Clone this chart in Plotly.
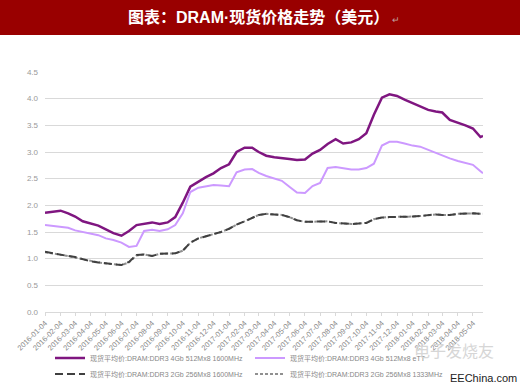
import plotly.graph_objects as go

dates = [
    "2016-01-04","2016-01-19","2016-02-04","2016-02-19","2016-03-04","2016-03-19",
    "2016-04-04","2016-04-19","2016-05-04","2016-05-19","2016-06-04","2016-06-19",
    "2016-07-04","2016-07-19","2016-08-04","2016-08-19","2016-09-04","2016-09-19",
    "2016-10-04","2016-10-19","2016-11-04","2016-11-19","2016-12-04","2016-12-19",
    "2017-01-04","2017-01-19","2017-02-04","2017-02-19","2017-03-04","2017-03-19",
    "2017-04-04","2017-04-19","2017-05-04","2017-05-19","2017-06-04","2017-06-19",
    "2017-07-04","2017-07-19","2017-08-04","2017-08-19","2017-09-04","2017-09-19",
    "2017-10-04","2017-10-19","2017-11-04","2017-11-19","2017-12-04","2017-12-19",
    "2018-01-04","2018-01-19","2018-02-04","2018-02-19","2018-03-04","2018-03-19",
    "2018-04-04","2018-04-19","2018-05-04","2018-05-19","2018-05-24",
]

ddr3_4gb_1600 = [
    1.86,1.88,1.90,1.85,1.79,1.70,1.66,1.62,1.55,1.48,1.43,1.52,
    1.63,1.65,1.68,1.65,1.68,1.78,2.05,2.35,2.45,2.53,2.60,2.70,
    2.77,3.00,3.08,3.08,3.00,2.93,2.90,2.89,2.87,2.85,2.86,2.97,
    3.04,3.15,3.24,3.16,3.18,3.24,3.35,3.70,4.02,4.08,4.05,3.98,
    3.92,3.86,3.79,3.76,3.74,3.60,3.55,3.50,3.44,3.28,3.30,
]

ddr3_4gb_ett = [
    1.63,1.61,1.60,1.58,1.53,1.50,1.48,1.44,1.38,1.35,1.30,1.22,
    1.24,1.52,1.54,1.52,1.55,1.63,1.85,2.25,2.33,2.36,2.38,2.37,
    2.36,2.62,2.67,2.68,2.61,2.55,2.50,2.46,2.35,2.24,2.23,2.36,
    2.42,2.70,2.72,2.70,2.67,2.67,2.70,2.78,3.12,3.19,3.19,3.16,
    3.12,3.10,3.04,2.98,2.93,2.88,2.83,2.80,2.76,2.64,2.60,
]

ddr3_2gb_1600 = [
    1.13,1.10,1.07,1.05,1.03,0.99,0.95,0.93,0.91,0.90,0.88,0.94,
    1.07,1.08,1.05,1.09,1.10,1.10,1.15,1.30,1.38,1.42,1.47,1.50,
    1.56,1.64,1.70,1.76,1.82,1.84,1.83,1.82,1.78,1.72,1.69,1.69,
    1.69,1.70,1.67,1.66,1.65,1.66,1.67,1.74,1.77,1.78,1.78,1.79,
    1.79,1.80,1.81,1.83,1.82,1.82,1.84,1.85,1.85,1.84,1.84,
]

ddr3_2gb_1333 = [
    1.12,1.10,1.07,1.05,1.02,0.99,0.95,0.93,0.91,0.90,0.88,0.93,
    1.06,1.08,1.05,1.09,1.10,1.10,1.15,1.30,1.38,1.42,1.47,1.50,
    1.56,1.64,1.70,1.76,1.82,1.84,1.83,1.82,1.78,1.72,1.69,1.69,
    1.69,1.70,1.67,1.66,1.65,1.66,1.67,1.74,1.77,1.78,1.78,1.79,
    1.79,1.80,1.81,1.83,1.82,1.82,1.84,1.85,1.85,1.84,1.84,
]

tick_dates = [
    "2016-01-04","2016-02-04","2016-03-04","2016-04-04","2016-05-04","2016-06-04",
    "2016-07-04","2016-08-04","2016-09-04","2016-10-04","2016-11-04","2016-12-04",
    "2017-01-04","2017-02-04","2017-03-04","2017-04-04","2017-05-04","2017-06-04",
    "2017-07-04","2017-08-04","2017-09-04","2017-10-04","2017-11-04","2017-12-04",
    "2018-01-04","2018-02-04","2018-03-04","2018-04-04","2018-05-04",
]
y_ticks = [0.0, 0.5, 1.0, 1.5, 2.0, 2.5, 3.0, 3.5, 4.0, 4.5]

names = [
    "现货平均价:DRAM:DDR3 4Gb 512Mx8 1600MHz",
    "现货平均价:DRAM:DDR3 4Gb 512Mx8 eTT",
    "现货平均价:DRAM:DDR3 2Gb 256Mx8 1600MHz",
    "现货平均价:DRAM:DDR3 2Gb 256Mx8 1333MHz",
]

FONT = "Liberation Sans, Noto Sans CJK SC, sans-serif"
PW, PH, L, T = 438, 240, 45, 72


def px(x):
    return (x - L) / PW


def py(y):
    return (T + PH - y) / PH


fig = go.Figure()
fig.add_trace(go.Scatter(x=dates, y=ddr3_4gb_1600, mode="lines", name=names[0],
                         line=dict(color="#7F1680", width=2.5), legend="legend"))
fig.add_trace(go.Scatter(x=dates, y=ddr3_4gb_ett, mode="lines", name=names[1],
                         line=dict(color="#CC99FF", width=2), legend="legend"))
fig.add_trace(go.Scatter(x=dates, y=ddr3_2gb_1333, mode="lines", name=names[3],
                         line=dict(color="#909090", width=2, dash="3px,2px"),
                         showlegend=False))
fig.add_trace(go.Scatter(x=dates, y=ddr3_2gb_1600, mode="lines", name=names[2],
                         line=dict(color="#404040", width=2, dash="8px,4px"),
                         legend="legend2"))
fig.add_trace(go.Scatter(x=[None], y=[None], mode="lines", name=names[3],
                         line=dict(color="#909090", width=2, dash="3px,2px"),
                         legend="legend2"))

leg_common = dict(orientation="h", xanchor="left", yanchor="middle",
                  entrywidth=155, entrywidthmode="pixels", itemwidth=30,
                  font=dict(size=7, color="#888888", family=FONT),
                  bgcolor="rgba(0,0,0,0)", borderwidth=0)

fig.update_layout(
    width=520, height=390,
    margin=dict(l=L, r=520 - L - PW, t=T, b=390 - T - PH, autoexpand=False),
    paper_bgcolor="white", plot_bgcolor="white",
    font=dict(family=FONT, color="#888888", size=8),
    showlegend=True,
    legend=dict(x=px(50), y=py(358), **leg_common),
    legend2=dict(x=px(50), y=py(374), **leg_common),
)

fig.add_shape(type="rect", xref="paper", yref="paper",
              x0=px(-5), x1=px(525), y0=py(35), y1=py(-5),
              fillcolor="#990000", line=dict(width=0), layer="above")

fig.add_annotation(xref="paper", yref="paper", x=px(264), y=py(17),
                   text="<b>图表：DRAM·现货价格走势（美元）</b><span style='font-size:9px;color:#c0a0a0'> ↵</span>",
                   showarrow=False, xanchor="center", yanchor="middle",
                   font=dict(size=16, color="white", family=FONT))

fig.add_annotation(xref="paper", yref="paper", x=px(448), y=py(378),
                   text="EEChina.com", showarrow=False, xanchor="left", yanchor="middle",
                   font=dict(size=11, color="#222222", family="Liberation Sans, sans-serif"))
fig.add_annotation(xref="paper", yref="paper", x=px(412), y=py(350),
                   text="电子发烧友", showarrow=False, xanchor="left", yanchor="middle",
                   font=dict(size=16, color="#d6d6d6", family="Noto Sans CJK SC, sans-serif"))

fig.update_xaxes(
    type="date", range=["2016-01-04", "2018-05-24"],
    tickmode="array", tickvals=tick_dates, ticktext=tick_dates,
    tickangle=-45, tickfont=dict(size=7.5, color="#888888"),
    showgrid=False, showline=True, linecolor="#d9d9d9", linewidth=1,
    ticks="outside", ticklen=3, tickcolor="#d9d9d9", zeroline=False,
    automargin=False,
)
fig.update_yaxes(
    range=[0, 4.5], tickmode="array", tickvals=y_ticks,
    ticktext=[f"{v:.1f}" for v in y_ticks],
    tickfont=dict(size=8, color="#999999"), ticklabelstandoff=6,
    showgrid=True, gridcolor="#d9d9d9", gridwidth=1, zeroline=False,
    showline=False, ticks="", automargin=False,
)

fig.write_html("out.html", config={"displayModeBar": False},
               post_script="document.body.style.margin='0';document.body.style.overflow='hidden';")
